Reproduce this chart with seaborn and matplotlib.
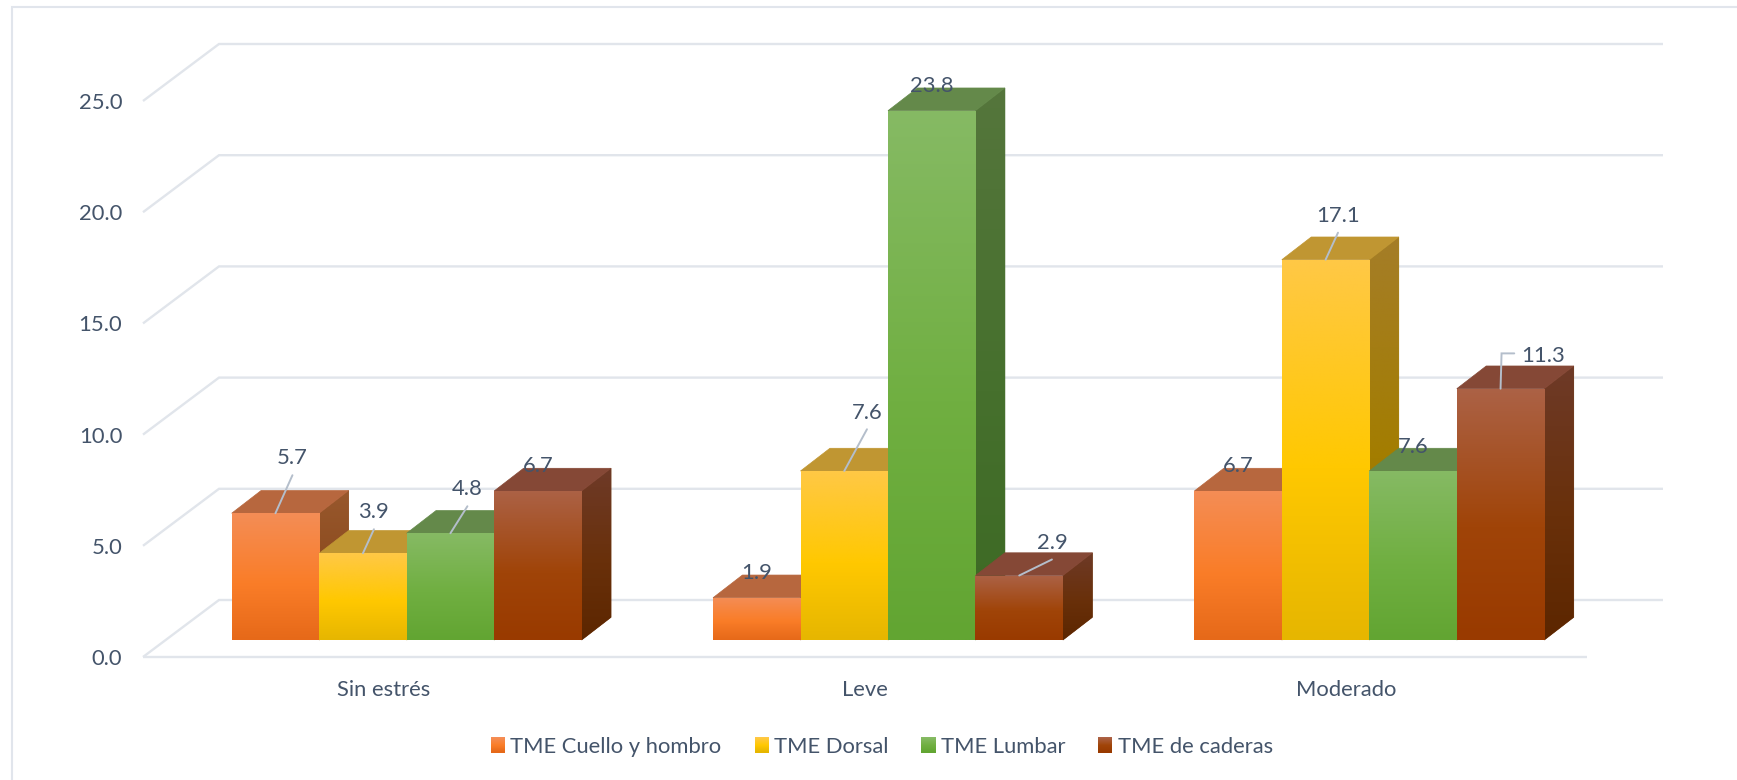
import numpy as np
import pandas as pd
import matplotlib
matplotlib.use("Agg")
import matplotlib.pyplot as plt
import seaborn as sns
from matplotlib.colors import LinearSegmentedColormap
from matplotlib.legend_handler import HandlerBase
from matplotlib.lines import Line2D
from matplotlib.patches import Patch, Polygon, Rectangle
from matplotlib.transforms import IdentityTransform

# ---------- data ----------
niveles = ["Sin estrés", "Leve", "Moderado"]
series = ["TME Cuello y hombro", "TME Dorsal", "TME Lumbar", "TME de caderas"]
cuello = [5.7, 1.9, 6.7]
dorsal = [3.9, 7.6, 17.1]
lumbar = [4.8, 23.8, 7.6]
caderas = [6.7, 2.9, 11.3]
y_ticks = [0, 5, 10, 15, 20, 25]

# ---------- styles ----------
W, H = 1737, 780
TEXT = "#44546A"
GRID = "#E1E5EB"
LEADER = "#B4BECB"
FS = 15.8


def rgb(*c):
    return tuple(v / 255 for v in c)


front_stops = [
    [rgb(244, 141, 86), rgb(250, 125, 40), rgb(230, 105, 25)],
    [rgb(255, 200, 70), rgb(255, 200, 0), rgb(230, 182, 0)],
    [rgb(134, 186, 100), rgb(112, 175, 65), rgb(98, 165, 50)],
    [rgb(172, 98, 70), rgb(160, 68, 8), rgb(153, 58, 0)],
]
side_stops = [
    [rgb(152, 88, 45), rgb(140, 75, 30), rgb(130, 70, 20)],
    [rgb(165, 125, 40), rgb(163, 125, 0), rgb(150, 118, 0)],
    [rgb(85, 118, 60), rgb(70, 112, 45), rgb(60, 105, 35)],
    [rgb(110, 58, 40), rgb(105, 48, 10), rgb(92, 38, 0)],
]
top_colors = [rgb(183, 103, 62), rgb(192, 150, 50), rgb(100, 137, 74), rgb(133, 72, 54)]


def make_cmap(stops):
    return LinearSegmentedColormap.from_list("g", [(0, stops[0]), (0.55, stops[1]), (1, stops[2])])


# label placement: text offset from bar-top centre, plus leader polyline (pixels)
label_style = [
    [((16.5, 55.6), [(17, 38)]), ((0, 25), []), ((0, 25), [])],
    [((10.5, 41.6), [(11, 24)]), ((22.7, 58), [(22.7, 41.7)]), ((12.8, 43.7), [(12.4, 27)])],
    [((16.5, 44), [(17, 27)]), ((0, 24.7), []), ((0, 24.3), [])],
    [((0, 25), []), ((32.7, 33), [(32.7, 16)]), ((42.7, 33), [(1, 35.3), (13.7, 35.3)])],
]

# ---------- figure ----------
sns.set_theme(style="white")
plt.rcParams["font.family"] = ["Lato", "DejaVu Sans"]
fig = plt.figure(figsize=(W / 100, H / 100), dpi=100, facecolor="white")


def px_axes(left, right, top, bottom):
    return fig.add_axes([left / W, 1 - bottom / H, (right - left) / W, (bottom - top) / H])


# back-wall axes: ticks, grid, category labels
PX_UNIT = 22.24
PX_CAT = 1444 / 3
ax_w = px_axes(143, 1587, 657 - 25 * PX_UNIT, 657)
ax_w.set_xlim(-0.5, 2.5)
ax_w.set_ylim(0, 25)
wall_dx, wall_dy = 76 / PX_CAT, 57 / PX_UNIT
for v in y_ticks:
    ax_w.plot([-0.5, -0.5 + wall_dx, 2.5 + wall_dx], [v, v + wall_dy, v + wall_dy],
              color=GRID, lw=1.7, clip_on=False, solid_joinstyle="miter", solid_capstyle="butt", zorder=1)
ax_w.set_yticks(y_ticks, [f"{v:.1f}" for v in y_ticks])
ax_w.set_xticks(range(len(niveles)), niveles)
ax_w.tick_params(axis="y", length=0, pad=15, labelsize=FS, labelcolor=TEXT)
ax_w.tick_params(axis="x", length=0, pad=16.5, labelsize=FS, labelcolor=TEXT)
for name, sp in ax_w.spines.items():
    sp.set_visible(name == "bottom")
ax_w.spines["bottom"].set_color(GRID)
ax_w.spines["bottom"].set_linewidth(1.7)
ax_w.spines["bottom"].set_capstyle("butt")

# bar axes: the same scales, set back into the floor
ax = px_axes(166, 1610, 640 - 25 * PX_UNIT, 640)
ax.patch.set_alpha(0)
df = pd.DataFrame({
    "Nivel": niveles * 4,
    "Serie": np.repeat(series, 3),
    "Valor": cuello + dorsal + lumbar + caderas,
})
sns.barplot(data=df, x="Nivel", y="Valor", hue="Serie", hue_order=series, order=niveles,
            palette=[s[1] for s in front_stops], saturation=1, width=0.727, gap=0,
            legend=False, ax=ax)
ax.set_xlim(-0.5, 2.5)
ax.set_ylim(0, 25)
ax.set_autoscale_on(False)
ax.axis("off")

bar_dx, bar_dy = 29.4 / PX_CAT, 22.7 / PX_UNIT
grad = np.linspace(0, 1, 256).reshape(-1, 1)

for i, container in enumerate(ax.containers):
    base = 3 + i
    cm_front, cm_side = make_cmap(front_stops[i]), make_cmap(side_stops[i])
    for j, bar in enumerate(container):
        x0, w, h = bar.get_x(), bar.get_width(), bar.get_height()
        x1 = x0 + w
        bar.set_zorder(base + 0.2)
        bar.set_linewidth(0)
        # front face gradient
        im = ax.imshow(grad, extent=(x0, x1, 0, h), aspect="auto", cmap=cm_front,
                       vmin=0, vmax=1, origin="upper", zorder=base + 0.3, interpolation="bilinear")
        im.set_clip_path(bar)
        # side face
        side = Polygon([(x1, 0), (x1 + bar_dx, bar_dy), (x1 + bar_dx, h + bar_dy), (x1, h)],
                       closed=True, fc=side_stops[i][1], ec=side_stops[i][1], lw=0.5, zorder=base,
                       clip_on=False, transform=ax.transData)
        ax.add_patch(side)
        im2 = ax.imshow(grad, extent=(x1, x1 + bar_dx, 0, h + bar_dy), aspect="auto", cmap=cm_side,
                        vmin=0, vmax=1, origin="upper", zorder=base + 0.05, interpolation="bilinear")
        im2.set_clip_path(side)
        # top face
        ax.add_patch(Polygon([(x0, h), (x1, h), (x1 + bar_dx, h + bar_dy), (x0 + bar_dx, h + bar_dy)],
                             closed=True, fc=top_colors[i], ec=top_colors[i], lw=0.5,
                             zorder=base + 0.1, clip_on=False))

fig.canvas.draw()
for i, container in enumerate(ax.containers):
    for j, bar in enumerate(container):
        cx = bar.get_x() + bar.get_width() / 2
        h = bar.get_height()
        (tx, ty), leader = label_style[i][j]
        px, py = ax.transData.transform((cx, h))
        if leader:
            xs = [px] + [px + p[0] for p in leader]
            ys = [py] + [py + p[1] for p in leader]
            ax.add_line(Line2D(xs, ys, color=LEADER, lw=1.4, transform=IdentityTransform(),
                               zorder=20, clip_on=False, solid_joinstyle="miter"))
        ax.annotate(f"{h:.1f}", xy=(cx, h), xytext=(tx, ty), textcoords="offset pixels",
                    ha="center", va="center", fontsize=FS, color=TEXT, zorder=21, annotation_clip=False)


# legend with gradient swatches
class GradientHandler(HandlerBase):
    def create_artists(self, legend, orig, xd, yd, width, height, fontsize, trans):
        cm = make_cmap(orig.stops)
        n = 15
        out = []
        for k in range(n):
            y = -yd + height * (1 - (k + 1) / n)
            out.append(Rectangle((-xd, y), width, height / n * 1.05, fc=cm(k / (n - 1)), ec="none",
                                 antialiased=False, transform=trans))
        return out


handles = []
for s, st in zip(series, front_stops):
    p = Patch(label=s)
    p.stops = st
    handles.append(p)
fig.legend(handles=handles, loc="center", bbox_to_anchor=(882 / W, 1 - 746.7 / H), ncol=4, frameon=False,
           prop={"size": FS}, labelcolor=TEXT, handler_map={Patch: GradientHandler()},
           handlelength=0.64, handleheight=0.68, handletextpad=0.25, columnspacing=1.5, borderpad=0)

# outer frame (left and top only show in the picture)
fig.add_artist(Line2D([12 / W, 12 / W, 1], [0, 1 - 7 / H, 1 - 7 / H], color="#E1E5EC", lw=1.5,
                      solid_joinstyle="miter"))

fig.savefig("out.png", dpi=100, facecolor="white")
